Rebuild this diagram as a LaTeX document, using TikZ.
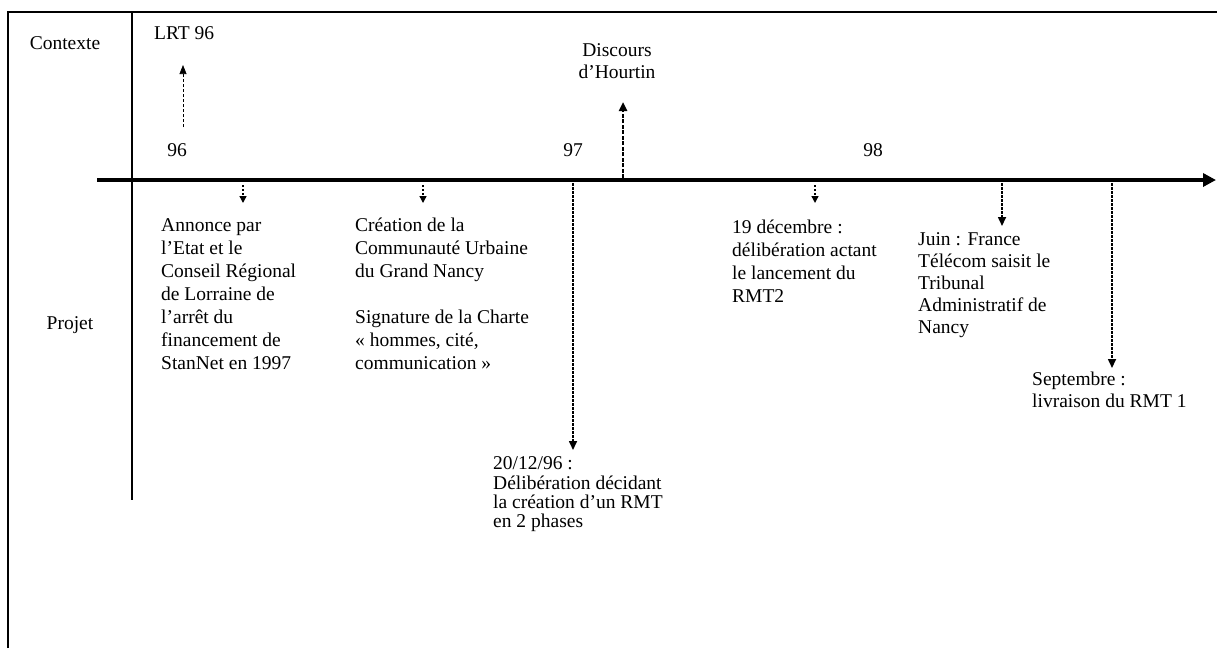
\documentclass[tikz,border=0pt]{standalone}
\usepackage{fontspec}
\setmainfont{Liberation Serif}
\usetikzlibrary{arrows.meta,positioning}

\begin{document}
\begin{tikzpicture}[x=1pt,y=-1pt,
    lbl/.style={font=\fontsize{19.5}{23}\selectfont, inner sep=0pt},
    event/.style={lbl, align=left, anchor=north west},
    frame/.style={line width=1.2pt},
    timeline/.style={line width=4.5pt, -{Triangle[length=13pt,width=13pt]}},
    tickarrow/.style={line width=1.4pt, dash pattern=on 2pt off 2pt, -{Triangle[length=7pt,width=7pt]}},
    ctxarrow/.style={line width=0.7pt, dash pattern=on 3pt off 2pt, -{Triangle[length=9pt,width=7pt]}},
    bigarrow/.style={line width=2.4pt, dash pattern=on 4pt off 1.5pt, -{Triangle[length=9pt,width=8pt]}},
    longarrow/.style={line width=1.6pt, dash pattern=on 2.5pt off 1.5pt, -{Triangle[length=9pt,width=8pt]}}]
    \useasboundingbox (0,0) rectangle (1217,648);

    \draw[frame] (8,648) -- (8,12) -- (1217,12);
    \draw[frame] (132,12) -- (132,500);

    \node[lbl] (contexte) at (65,43) {Contexte};
    \node[lbl] (projet) at (70,325) {Projet};

    \node[lbl, anchor=west] (lrt) at (154,33) {LRT 96};
    \node[lbl] (y96) at (177,150) {96};
    \node[lbl] (y97) at (573,150) {97};
    \node[lbl] (y98) at (873,150) {98};
    \node[lbl, align=center, font=\fontsize{19.5}{22}\selectfont] (hourtin) at (617,61) {Discours\\d'Hourtin};

    \coordinate (axL) at (97,180);
    \coordinate (axR) at (1216,180);
    \draw[timeline] (axL) -- (axR);

    \node[event] (annonce) at (161,215) {\strut Annonce par\\l'Etat et le\\Conseil Régional\\de Lorraine de\\l'arrêt du\\financement de\\StanNet en 1997};
    \node[event] (creation) at (355,215) {\strut Création de la\\Communauté Urbaine\\du Grand Nancy\\[23pt]Signature de la Charte\\« hommes, cité,\\communication »};
    \node[event, font=\fontsize{19.5}{19}\selectfont] (delib) at (493,456) {\strut 20/12/96 :\\Délibération décidant\\la création d'un RMT\\en 2 phases};
    \node[event] (decembre) at (732,217) {\strut 19 décembre :\\délibération actant\\le lancement du\\RMT2};
    \node[event, font=\fontsize{19.5}{22}\selectfont] (juin) at (918,230) {\strut Juin : France\\Télécom saisit le\\Tribunal\\Administratif de\\Nancy};
    \node[event, font=\fontsize{19.5}{22}\selectfont] (septembre) at (1032,370) {\strut Septembre :\\livraison du RMT 1};

    \coordinate (lrtfoot) at (183,127);
    \coordinate (lrttip) at (183,65);
    \coordinate (hfoot) at (623,178);
    \coordinate (htip) at (623,102);
    \coordinate (t1) at (243,185);
    \coordinate (t2) at (423,185);
    \coordinate (t3) at (573,183);
    \coordinate (t4) at (815,185);
    \coordinate (t5) at (1002,183);
    \coordinate (t6) at (1112,183);

    \draw[ctxarrow] (lrtfoot) -- (lrttip);
    \draw[bigarrow] (hfoot) -- (htip);
    \draw[tickarrow] (t1) -- ([yshift=12pt]annonce.north -| t1);
    \draw[tickarrow] (t2) -- ([yshift=12pt]creation.north -| t2);
    \draw[longarrow] (t3) -- ([yshift=6pt]delib.north -| t3);
    \draw[tickarrow] (t4) -- ([yshift=14pt]decembre.north -| t4);
    \draw[longarrow] (t5) -- ([yshift=4pt]juin.north -| t5);
    \draw[longarrow] (t6) -- ([yshift=2pt]septembre.north -| t6);
\end{tikzpicture}
\end{document}
